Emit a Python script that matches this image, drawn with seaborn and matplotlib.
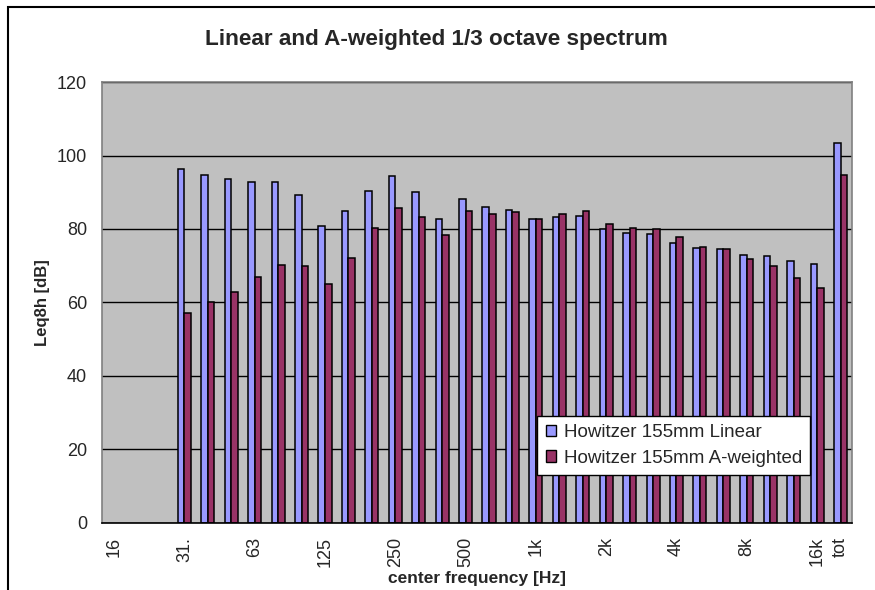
import numpy as np
import pandas as pd
import seaborn as sns
import matplotlib.pyplot as plt
from matplotlib.patches import Rectangle

# 1/3 octave centre frequencies (16, 20, 25 Hz have no values)
freqs = ['16', '20', '25', '31.5', '40', '50', '63', '80', '100', '125', '160', '200',
         '250', '315', '400', '500', '630', '800', '1k', '1.25k', '1.6k', '2k', '2.5k',
         '3.15k', '4k', '5k', '6.3k', '8k', '10k', '12.5k', '16k', 'tot']
tick_labels = ['16', '', '', '31.', '', '', '63', '', '', '125', '', '',
               '250', '', '', '500', '', '', '1k', '', '', '2k', '', '',
               '4k', '', '', '8k', '', '', '16k', 'tot']

linear = [np.nan, np.nan, np.nan,
          96.4, 94.8, 93.5, 92.8, 92.8, 89.2, 80.7, 84.8, 90.4, 94.4, 90.1, 82.8,
          88.1, 86.0, 85.3, 82.8, 83.3, 83.6, 80.1, 78.8, 78.7, 76.3, 74.8, 74.5,
          72.9, 72.6, 71.4, 70.6, 103.5]
a_weighted = [np.nan, np.nan, np.nan,
              57.1, 60.2, 62.9, 67.0, 70.2, 69.8, 65.1, 72.1, 80.2, 85.6, 83.3, 78.5,
              84.9, 84.0, 84.5, 82.8, 84.1, 84.9, 81.3, 80.4, 80.0, 77.7, 75.2, 74.5,
              71.7, 69.8, 66.6, 63.9, 94.8]

series = ['Howitzer 155mm Linear', 'Howitzer 155mm A-weighted']
colors = ['#9999FF', '#993366']

df = pd.concat([
    pd.DataFrame({'freq': freqs, 'level': linear, 'series': series[0]}),
    pd.DataFrame({'freq': freqs, 'level': a_weighted, 'series': series[1]}),
]).dropna()

sns.set_style('white')
plt.rcParams['font.family'] = ['Liberation Sans', 'DejaVu Sans']

fig = plt.figure(figsize=(8.75, 5.9), dpi=100)
ax = fig.add_axes([0.117, 0.1136, 0.857, 0.7474])
ax.set_facecolor('#C0C0C0')
ax.set_axisbelow(True)

sns.barplot(data=df, x='freq', y='level', hue='series', order=freqs,
            hue_order=series, palette=colors, width=0.56, saturation=1,
            edgecolor='black', linewidth=1.1, ax=ax)

ax.set_xlim(-0.5, len(freqs) - 0.5)
ax.set_ylim(0, 120)
ax.set_yticks(np.arange(0, 121, 20))
ax.yaxis.grid(True, color='black', linewidth=1)
ax.xaxis.grid(False)

ax.set_xticks(range(len(freqs)))
ax.set_xticklabels(tick_labels, rotation=90, fontsize=13)
ax.set_xticks(np.arange(0.5, len(freqs) - 0.5, 1), minor=True)
ax.tick_params(axis='x', which='major', length=0, pad=10)
ax.tick_params(axis='x', which='minor', direction='in', length=5, width=1, color='black')
ax.tick_params(axis='y', length=0, pad=11, labelsize=13)

for side in ['top', 'right', 'left']:
    ax.spines[side].set_color('#808080')
    ax.spines[side].set_linewidth(1.2)
ax.spines['bottom'].set_color('black')
ax.spines['bottom'].set_linewidth(1.2)

ax.set_xlabel('center frequency [Hz]', fontsize=12.5, fontweight='bold')
ax.xaxis.set_label_coords(0.5, -0.11)
ax.set_ylabel('Leq8h [dB]', fontsize=12, fontweight='bold')
ax.yaxis.set_label_coords(-0.07, 0.5)

leg = ax.legend(loc='upper left', bbox_to_anchor=(0.58, 0.243), borderaxespad=0,
                fontsize=13.5, frameon=True, fancybox=False, shadow=False,
                handlelength=0.55, handleheight=0.55, handletextpad=0.4,
                labelspacing=0.45, borderpad=0.45)
leg.get_frame().set_edgecolor('black')
leg.get_frame().set_linewidth(1)
leg.get_frame().set_facecolor('white')
leg.get_frame().set_alpha(1)
for h in leg.legend_handles:
    h.set_edgecolor('black')
    h.set_linewidth(1)

fig.text(0.499, 1 - 40 / 590, 'Linear and A-weighted 1/3 octave spectrum',
         ha='center', va='center', fontsize=16.2, fontweight='bold')

# outer chart frame (Excel chart area border)
fig.add_artist(Rectangle((8 / 875, -0.1), 1.0, 1.1 - 7 / 590, transform=fig.transFigure,
                         fill=False, edgecolor='black', linewidth=1.5))

fig.savefig('out.png', dpi=100)
